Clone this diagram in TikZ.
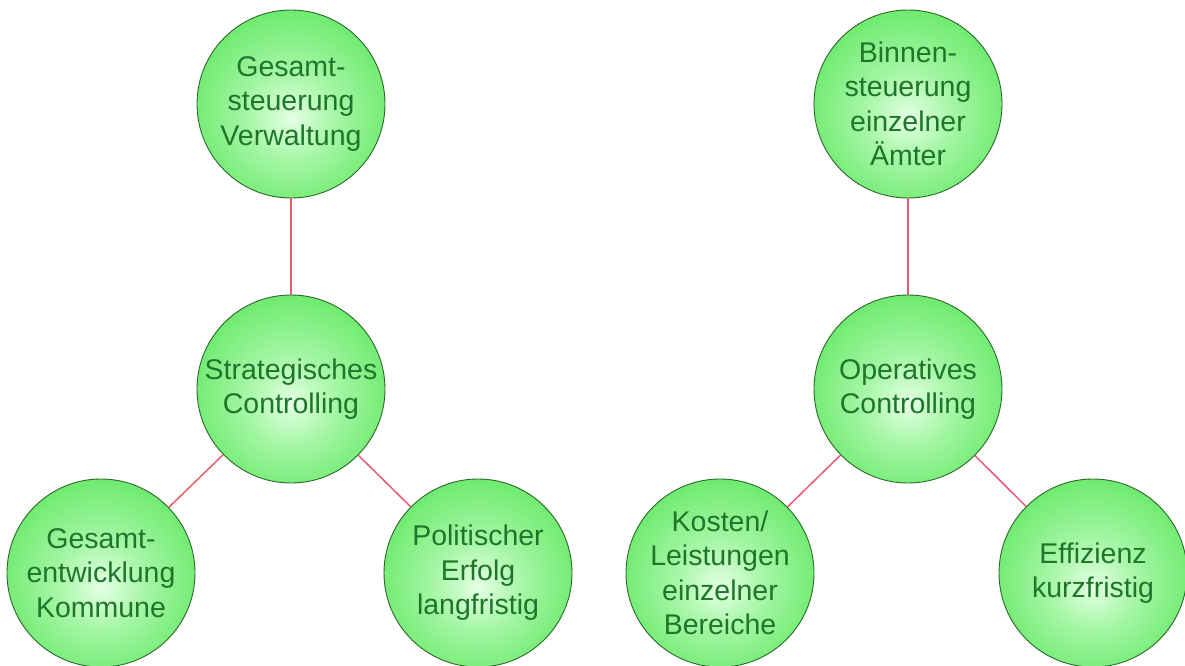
\documentclass[tikz,border=0pt]{standalone}
\usepackage{fontspec}
\setmainfont{Liberation Sans}
\definecolor{ballA}{RGB}{228,255,228}
\definecolor{ballB}{RGB}{165,246,165}
\definecolor{ballC}{RGB}{100,232,100}
\definecolor{ballD}{RGB}{76,222,76}
\definecolor{ballrim}{RGB}{40,105,40}
\definecolor{balltext}{RGB}{30,118,42}
\definecolor{linkred}{RGB}{232,92,112}
\pgfdeclareradialshading{ball}{\pgfpoint{0bp}{-4bp}}{%
  color(0bp)=(ballA); color(12bp)=(ballB); color(30bp)=(ballC);
  color(50bp)=(ballD)}
\tikzset{
  bubble/.style={circle, minimum size=188pt, inner sep=0pt,
    shading=ball, draw=ballrim, line width=0.9pt,
    text=balltext, align=center,
    font=\fontsize{28.5}{34.5}\selectfont},
  link/.style={draw=linkred, line width=1.5pt}
}
\begin{document}
\begin{tikzpicture}[x=1pt,y=-1pt]
\useasboundingbox (0,0) rectangle (1185,666);
\fill[white] (0,0) rectangle (1185,666);
% left tree: strategic
\node[bubble] (gv) at (291,104) {Gesamt-\\steuerung\\Verwaltung};
\node[bubble] (sc) at (291,389) {Strategisches\\Controlling};
\node[bubble] (gk) at (101,573) {Gesamt-\\entwicklung\\Kommune};
\node[bubble] (pe) at (478,573) {Politischer\\Erfolg\\langfristig};
% right tree: operative
\node[bubble] (bs) at (908,104) {Binnen-\\steuerung\\einzelner\\Ämter};
\node[bubble] (oc) at (908,389) {Operatives\\Controlling};
\node[bubble] (kl) at (720,573) {Kosten/\\Leistungen\\einzelner\\Bereiche};
\node[bubble] (ek) at (1093,573) {Effizienz\\kurzfristig};
% links
\draw[link] (gv) -- (sc);
\draw[link] (sc) -- (gk);
\draw[link] (sc) -- (pe);
\draw[link] (bs) -- (oc);
\draw[link] (oc) -- (kl);
\draw[link] (oc) -- (ek);
\end{tikzpicture}
\end{document}
